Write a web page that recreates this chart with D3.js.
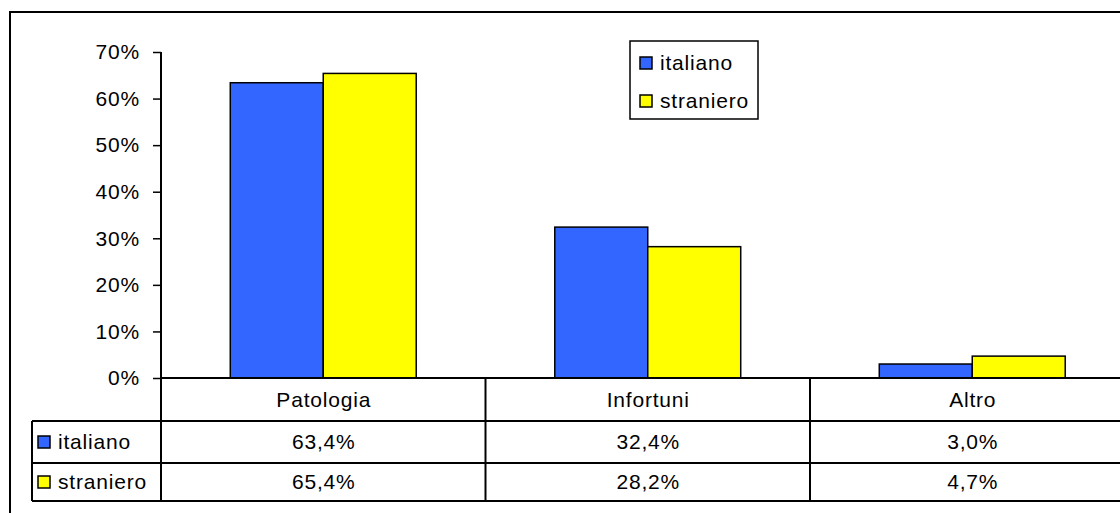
<!DOCTYPE html>
<html>
<head>
<meta charset="utf-8">
<script src="https://cdn.jsdelivr.net/npm/d3@7"></script>
<style>
  body { margin: 0; background: #fff; }
  svg { display: block; font-family: "Liberation Sans", Arial, sans-serif; }
  svg text { font-size: 21px; letter-spacing: 0.8px; fill: #000; }
</style>
</head>
<body>
<div id="viz"></div>
<script>
const width = 1120;
const height = 513;

// data
const categories = ['Patologia', 'Infortuni', 'Altro'];
const seriesNames = ['italiano', 'straniero'];
const italiano = [0.634, 0.324, 0.030];
const straniero = [0.654, 0.282, 0.047];
const yTicks = [0, 0.1, 0.2, 0.3, 0.4, 0.5, 0.6, 0.7];

const colors = { italiano: '#3366ff', straniero: '#ffff00' };
const values = { italiano: italiano, straniero: straniero };

// layout
const plot = { left: 161, right: 1134.5, top: 52, bottom: 378 };
const rowY = [378, 421, 463, 501]; // table row edges
const tableLeft = 32;

const itFormat = d3.formatLocale({ decimal: ',', thousands: '.', grouping: [3], currency: ['', '€'] });
const pct1 = itFormat.format('.1%');

const svg = d3.select('#viz')
  .append('svg')
    .attr('width', width)
    .attr('height', height);

// outer frame (goes off the picture right and bottom)
svg.append('rect')
  .attr('x', 10).attr('y', 12)
  .attr('width', width + 20).attr('height', height + 20)
  .attr('fill', 'none')
  .attr('stroke', '#000')
  .attr('stroke-width', 2);

// scales
const scaleX = d3.scaleBand()
  .domain(categories)
  .range([plot.left, plot.right])
  .paddingInner(0.427)
  .paddingOuter(0.2135);

const scaleSeries = d3.scaleBand()
  .domain(seriesNames)
  .range([0, scaleX.bandwidth()]);

const scaleY = d3.scaleLinear()
  .domain([0, 0.7])
  .range([plot.bottom, plot.top]);

// bars
const groups = svg.append('g')
  .selectAll('g')
  .data(categories)
  .join('g')
    .attr('transform', d => `translate(${scaleX(d)},0)`);

groups.selectAll('rect')
  .data((c, i) => seriesNames.map(s => ({ series: s, value: values[s][i] })))
  .join('rect')
    .attr('x', d => scaleSeries(d.series))
    .attr('y', d => scaleY(d.value))
    .attr('width', scaleSeries.bandwidth())
    .attr('height', d => scaleY(0) - scaleY(d.value))
    .attr('fill', d => colors[d.series])
    .attr('stroke', '#000')
    .attr('stroke-width', 1.5);

// y axis
const axisLeft = d3.axisLeft(scaleY)
  .tickValues(yTicks)
  .tickFormat(d3.format('.0%'))
  .tickSize(8)
  .tickPadding(13)
  .tickSizeOuter(0);

const yAxis = svg.append('g')
  .attr('transform', `translate(${plot.left},0)`)
  .call(axisLeft)
  .attr('font-size', null)
  .attr('font-family', null);
yAxis.select('.domain').remove();
yAxis.selectAll('line').attr('stroke', '#000').attr('stroke-width', 1.5);
yAxis.selectAll('text').attr('fill', '#000');

// axis line, running down through the data table
svg.append('line')
  .attr('x1', plot.left).attr('x2', plot.left)
  .attr('y1', scaleY(0.7)).attr('y2', rowY[3])
  .attr('stroke', '#000').attr('stroke-width', 2);

// data table
const table = svg.append('g').attr('stroke', '#000').attr('stroke-width', 2);
table.append('line')
  .attr('x1', plot.left).attr('x2', width + 10)
  .attr('y1', rowY[0]).attr('y2', rowY[0]);
[1, 2, 3].forEach(r => {
  table.append('line')
    .attr('x1', tableLeft).attr('x2', width + 10)
    .attr('y1', rowY[r]).attr('y2', rowY[r]);
});
table.append('line')
  .attr('x1', tableLeft).attr('x2', tableLeft)
  .attr('y1', rowY[1]).attr('y2', rowY[3]);
// column separators
categories.slice(1).forEach(c => {
  const x = scaleX(c) - scaleX.step() * scaleX.paddingInner() / 2;
  table.append('line')
    .attr('x1', x).attr('x2', x)
    .attr('y1', rowY[0]).attr('y2', rowY[3]);
});

const centerX = c => scaleX(c) + scaleX.bandwidth() / 2 + 0.5;

svg.append('g')
  .selectAll('text')
  .data(categories)
  .join('text')
    .attr('x', centerX)
    .attr('y', (rowY[0] + rowY[1]) / 2)
    .attr('dy', '0.35em')
    .attr('text-anchor', 'middle')
    .text(d => d);

seriesNames.forEach((s, r) => {
  const yMid = (rowY[r + 1] + rowY[r + 2]) / 2;
  svg.append('rect')
    .attr('x', 38).attr('y', yMid - 6)
    .attr('width', 12).attr('height', 12)
    .attr('fill', colors[s])
    .attr('stroke', '#000').attr('stroke-width', 1.5);
  svg.append('text')
    .attr('x', 58).attr('y', yMid)
    .attr('dy', '0.35em')
    .text(s);
  svg.append('g')
    .selectAll('text')
    .data(categories)
    .join('text')
      .attr('x', centerX)
      .attr('y', yMid)
      .attr('dy', '0.35em')
      .attr('text-anchor', 'middle')
      .text((c, i) => pct1(values[s][i]));
});

// legend
const legend = svg.append('g').attr('transform', 'translate(630,41)');
legend.append('rect')
  .attr('width', 128).attr('height', 78)
  .attr('fill', '#fff')
  .attr('stroke', '#000').attr('stroke-width', 1.5);
const legendItems = legend.selectAll('g')
  .data(seriesNames)
  .join('g')
    .attr('transform', (d, i) => `translate(10,${22 + i * 38})`);
legendItems.append('rect')
  .attr('y', -6).attr('width', 12).attr('height', 12)
  .attr('fill', d => colors[d])
  .attr('stroke', '#000').attr('stroke-width', 1.5);
legendItems.append('text')
  .attr('x', 20)
  .attr('dy', '0.35em')
  .text(d => d);
</script>
</body>
</html>
